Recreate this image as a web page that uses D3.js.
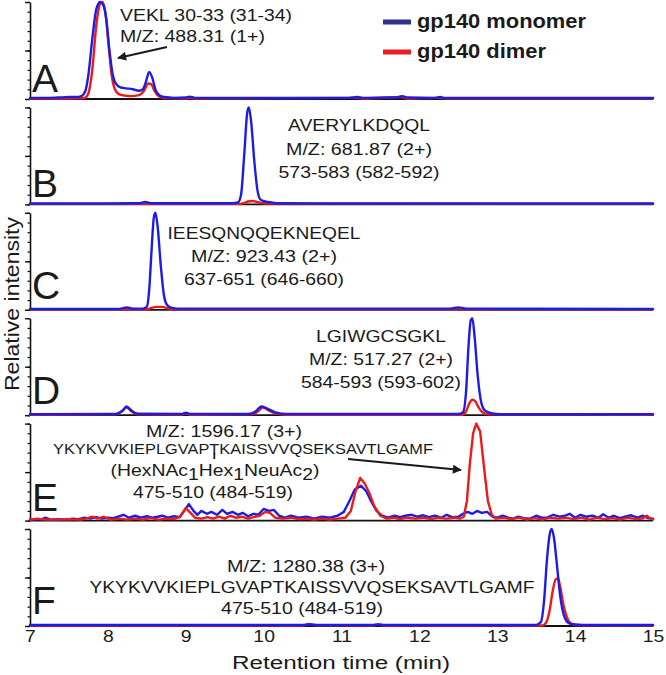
<!DOCTYPE html>
<html><head><meta charset="utf-8">
<script src="https://cdn.jsdelivr.net/npm/d3@7"></script>
<style>
html,body{margin:0;padding:0;background:#fff;}
svg{display:block;}
text{font-family:"Liberation Sans",Arial,Helvetica,sans-serif;fill:#1a1a1a;}
</style></head>
<body>
<svg id="chart" width="666" height="675"></svg>
<script>
// ---------------- DATA ----------------
const panels = ["A","B","C","D","E","F"];
const seriesNames = ["gp140 monomer","gp140 dimer"];
const timeTicks = [7,8,9,10,11,12,13,14,15];

// [retention time (min), relative intensity]
const aMonomer = [[7.0,0.012],[7.2,0.012],[7.35,0.015],[7.5,0.02],[7.6,0.02],[7.66,0.03],[7.71,0.08],[7.75,0.25],[7.8,0.62],[7.85,0.92],[7.9,1.0],[7.94,0.97],[7.98,0.82],[8.02,0.5],[8.06,0.26],[8.1,0.16],[8.16,0.12],[8.24,0.11],[8.32,0.1],[8.4,0.085],[8.45,0.1],[8.49,0.18],[8.53,0.28],[8.57,0.22],[8.61,0.1],[8.66,0.04],[8.72,0.02],[8.85,0.012],[9.0,0.015],[9.05,0.025],[9.12,0.012],[9.4,0.01],[10.0,0.01],[10.5,0.01],[11.1,0.012],[11.2,0.02],[11.28,0.012],[11.7,0.015],[11.78,0.03],[11.85,0.015],[12.2,0.012],[12.27,0.02],[12.33,0.01],[13.0,0.01],[14.0,0.01],[15.0,0.01]];
const aDimer = [[7.0,0.005],[7.5,0.005],[7.7,0.01],[7.75,0.06],[7.8,0.3],[7.85,0.75],[7.9,0.98],[7.93,1.0],[7.97,0.88],[8.01,0.55],[8.05,0.24],[8.09,0.1],[8.14,0.05],[8.22,0.035],[8.3,0.03],[8.4,0.04],[8.46,0.08],[8.52,0.16],[8.56,0.15],[8.6,0.08],[8.65,0.03],[8.72,0.01],[9.0,0.005],[9.05,0.015],[9.12,0.005],[11.2,0.012],[11.28,0.005],[11.78,0.02],[11.85,0.005],[12.27,0.012],[12.33,0.005],[15.0,0.005]];

const bMonomer = [[7.0,0.01],[8.0,0.01],[8.4,0.012],[8.48,0.025],[8.56,0.012],[9.6,0.012],[9.67,0.02],[9.71,0.1],[9.75,0.5],[9.79,0.95],[9.81,1.0],[9.84,0.85],[9.88,0.45],[9.92,0.15],[9.96,0.05],[10.02,0.03],[10.1,0.02],[10.2,0.012],[11.0,0.01],[15.0,0.01]];
const bDimer = [[7.0,0.005],[9.7,0.005],[9.75,0.015],[9.8,0.03],[9.86,0.035],[9.92,0.025],[9.98,0.015],[10.06,0.008],[15.0,0.005]];

const cMonomer = [[7.0,0.01],[8.15,0.01],[8.24,0.025],[8.32,0.012],[8.45,0.012],[8.5,0.03],[8.53,0.2],[8.56,0.6],[8.59,0.95],[8.61,1.0],[8.64,0.85],[8.68,0.45],[8.72,0.15],[8.76,0.05],[8.82,0.02],[8.9,0.012],[12.4,0.012],[12.5,0.025],[12.6,0.012],[15.0,0.01]];
const cDimer = [[7.0,0.005],[8.5,0.005],[8.56,0.02],[8.62,0.03],[8.7,0.03],[8.78,0.012],[8.85,0.005],[12.45,0.005],[12.5,0.015],[12.56,0.005],[15.0,0.005]];

const dMonomer = [[7.0,0.01],[8.1,0.012],[8.18,0.04],[8.24,0.09],[8.3,0.05],[8.38,0.015],[8.95,0.012],[9.0,0.025],[9.06,0.012],[9.8,0.012],[9.9,0.04],[9.97,0.09],[10.04,0.07],[10.15,0.03],[10.3,0.012],[12.5,0.012],[12.56,0.03],[12.6,0.25],[12.63,0.7],[12.66,0.98],[12.68,1.0],[12.71,0.8],[12.75,0.4],[12.79,0.15],[12.84,0.05],[12.92,0.02],[13.05,0.01],[15.0,0.01]];
const dDimer = [[7.0,0.005],[8.1,0.008],[8.18,0.04],[8.24,0.08],[8.3,0.04],[8.38,0.01],[8.95,0.006],[9.0,0.02],[9.06,0.005],[9.85,0.01],[9.93,0.04],[9.99,0.08],[10.06,0.05],[10.15,0.02],[10.3,0.005],[12.55,0.005],[12.6,0.04],[12.64,0.12],[12.68,0.16],[12.72,0.14],[12.76,0.08],[12.81,0.03],[12.88,0.008],[15.0,0.005]];

const eMonomer = [[7.0,0.01],[7.07,0.015],[7.14,0.01],[7.2,0.03],[7.26,0.01],[7.35,0.015],[7.45,0.01],[7.55,0.02],[7.62,0.015],[7.7,0.03],[7.77,0.02],[7.85,0.035],[7.92,0.02],[8.0,0.03],[8.07,0.025],[8.13,0.04],[8.2,0.06],[8.27,0.03],[8.35,0.05],[8.42,0.03],[8.5,0.045],[8.57,0.03],[8.64,0.04],[8.7,0.05],[8.77,0.03],[8.85,0.045],[8.92,0.035],[8.98,0.1],[9.04,0.17],[9.1,0.1],[9.15,0.06],[9.2,0.1],[9.27,0.07],[9.33,0.09],[9.4,0.06],[9.47,0.11],[9.53,0.07],[9.6,0.09],[9.67,0.06],[9.73,0.08],[9.8,0.045],[9.87,0.07],[9.93,0.06],[10.0,0.12],[10.07,0.1],[10.13,0.11],[10.2,0.05],[10.27,0.03],[10.35,0.05],[10.45,0.03],[10.55,0.04],[10.65,0.02],[10.75,0.04],[10.85,0.03],[10.95,0.05],[11.03,0.09],[11.1,0.2],[11.17,0.32],[11.25,0.36],[11.32,0.3],[11.38,0.2],[11.45,0.1],[11.52,0.05],[11.6,0.03],[11.68,0.05],[11.75,0.035],[11.82,0.05],[11.9,0.06],[11.97,0.04],[12.05,0.055],[12.12,0.035],[12.2,0.05],[12.28,0.03],[12.35,0.06],[12.42,0.035],[12.5,0.04],[12.56,0.07],[12.62,0.09],[12.68,0.07],[12.74,0.1],[12.8,0.08],[12.87,0.09],[12.94,0.04],[13.0,0.03],[13.07,0.05],[13.14,0.03],[13.2,0.02],[13.27,0.04],[13.34,0.025],[13.42,0.02],[13.5,0.05],[13.57,0.03],[13.64,0.03],[13.72,0.06],[13.8,0.04],[13.87,0.05],[13.93,0.07],[14.0,0.03],[14.07,0.06],[14.14,0.04],[14.22,0.05],[14.3,0.03],[14.36,0.065],[14.43,0.03],[14.5,0.05],[14.57,0.025],[14.64,0.04],[14.72,0.055],[14.8,0.03],[14.87,0.05],[14.94,0.025],[15.0,0.02]];
const eDimer = [[7.0,0.01],[7.1,0.02],[7.2,0.01],[7.35,0.01],[7.5,0.015],[7.65,0.01],[7.72,0.02],[7.8,0.04],[7.87,0.02],[7.95,0.04],[8.03,0.01],[8.15,0.02],[8.25,0.01],[8.35,0.02],[8.45,0.01],[8.55,0.025],[8.65,0.01],[8.75,0.02],[8.85,0.015],[8.93,0.04],[9.0,0.13],[9.06,0.08],[9.12,0.03],[9.2,0.02],[9.28,0.035],[9.35,0.02],[9.43,0.04],[9.5,0.02],[9.57,0.05],[9.64,0.03],[9.72,0.04],[9.8,0.02],[9.87,0.035],[9.95,0.05],[10.02,0.09],[10.08,0.08],[10.15,0.03],[10.25,0.02],[10.35,0.03],[10.45,0.015],[10.55,0.02],[10.65,0.01],[10.75,0.02],[10.85,0.01],[10.95,0.02],[11.05,0.03],[11.12,0.1],[11.18,0.3],[11.24,0.44],[11.3,0.38],[11.36,0.28],[11.42,0.15],[11.5,0.05],[11.58,0.02],[11.67,0.03],[11.75,0.015],[11.85,0.03],[11.95,0.02],[12.05,0.03],[12.15,0.015],[12.25,0.03],[12.35,0.02],[12.45,0.03],[12.52,0.02],[12.57,0.04],[12.61,0.2],[12.65,0.6],[12.69,0.9],[12.73,1.0],[12.78,0.92],[12.83,0.55],[12.88,0.2],[12.93,0.06],[12.98,0.02],[13.08,0.03],[13.18,0.015],[13.28,0.03],[13.38,0.01],[13.48,0.025],[13.58,0.01],[13.68,0.03],[13.78,0.02],[13.88,0.03],[13.98,0.015],[14.08,0.03],[14.18,0.01],[14.28,0.03],[14.38,0.015],[14.48,0.025],[14.58,0.01],[14.68,0.03],[14.78,0.015],[14.86,0.02],[14.92,0.05],[14.97,0.02],[15.0,0.01]];

const fMonomer = [[7.0,0.01],[10.5,0.01],[10.6,0.015],[10.7,0.01],[11.4,0.01],[11.47,0.015],[11.55,0.01],[13.5,0.01],[13.56,0.04],[13.6,0.25],[13.64,0.7],[13.68,0.97],[13.7,1.0],[13.73,0.9],[13.77,0.6],[13.81,0.3],[13.86,0.1],[13.92,0.03],[14.0,0.015],[14.1,0.01],[15.0,0.01]];
const fDimer = [[7.0,0.005],[10.5,0.005],[10.58,0.02],[10.66,0.008],[11.4,0.005],[11.47,0.015],[11.55,0.005],[13.58,0.005],[13.63,0.04],[13.67,0.15],[13.71,0.35],[13.75,0.48],[13.78,0.49],[13.81,0.4],[13.85,0.22],[13.9,0.08],[13.96,0.02],[14.05,0.008],[15.0,0.005]];

const monomerTraces = [aMonomer,bMonomer,cMonomer,dMonomer,eMonomer,fMonomer];
const dimerTraces = [aDimer,bDimer,cDimer,dDimer,eDimer,fDimer];

const annotationA = ["VEKL 30-33 (31-34)","M/Z: 488.31 (1+)"];
const annotationB = ["AVERYLKDQQL","M/Z: 681.87 (2+)","573-583 (582-592)"];
const annotationC = ["IEESQNQQEKNEQEL","M/Z: 923.43 (2+)","637-651 (646-660)"];
const annotationD = ["LGIWGCSGKL","M/Z: 517.27 (2+)","584-593 (593-602)"];
const annotationE = ["M/Z: 1596.17 (3+)","YKYKVVKIEPLGVAPTKAISSVVQSEKSAVTLGAMF","475-510 (484-519)"];
const glycanE = [["(HexNAc",false],["1",true],["Hex",false],["1",true],["NeuAc",false],["2",true],[")",false]];
const annotationF = ["M/Z: 1280.38 (3+)","YKYKVVKIEPLGVAPTKAISSVVQSEKSAVTLGAMF","475-510 (484-519)"];

const xLabel = "Retention time (min)";
const yLabel = "Relative intensity";

// ---------------- LAYOUT ----------------
const BLUE = "#1c1ce8", RED = "#ee1a1a";
const LEG_BLUE = "#2e3192", LEG_RED = "#ed1c24";
const SX = 1.12, FS = 17.3;
const svg = d3.select("#chart");

const x = d3.scaleLinear().domain([7,15]).range([30,653]);
const baseScale = d3.scalePoint().domain(panels).range([99,626]);
const PH = 97;

const defs = svg.append("defs");
defs.append("marker").attr("id","ah").attr("viewBox","0 0 10 10").attr("refX",9).attr("refY",5)
  .attr("markerWidth",5).attr("markerHeight",4.5).attr("orient","auto").attr("markerUnits","strokeWidth")
  .append("path").attr("d","M0,0 L10,5 L0,10 Z").attr("fill","#1a1a1a");

function label(parent, px, py, str, opts={}) {
  const sx = opts.sx || SX;
  const g = parent.append("g").attr("transform",`translate(${px},${py}) scale(${sx},1)`);
  const t = g.append("text").attr("x",0).attr("y",0)
    .attr("text-anchor",opts.anchor||"middle")
    .style("font-size",(opts.fs||FS)+"px")
    .style("font-weight",opts.bold?"bold":"normal")
    .text(str);
  if (opts.width) t.attr("textLength", opts.width/sx).attr("lengthAdjust","spacingAndGlyphs");
  return {g,t};
}

panels.forEach((p,i) => {
  const base = baseScale(p);
  const y = d3.scaleLinear().domain([0,1]).range([base, base-PH]);
  const g = svg.append("g");

  g.append("g").attr("transform","translate(30,0)")
    .call(d3.axisLeft(y).tickValues(d3.range(0,1.0001,0.1)).tickSize(2.5).tickSizeOuter(0).tickFormat(""))
    .call(a=>{a.select(".domain").attr("stroke","#111").attr("stroke-width",1.6); a.selectAll(".tick line").attr("stroke","#111").attr("stroke-width",1.2);});
  g.append("g").attr("transform","translate(30,0)")
    .call(d3.axisLeft(y).tickValues([0,0.5,1]).tickSize(5).tickSizeOuter(0).tickFormat(""))
    .call(a=>{a.select(".domain").remove(); a.selectAll(".tick line").attr("stroke","#111").attr("stroke-width",1.4);});

  g.append("line").attr("x1",x(7)).attr("x2",x(15)).attr("y1",y(0)).attr("y2",y(0))
    .attr("stroke","#111").attr("stroke-width",1.8);

  const curve = p === "E" ? d3.curveLinear : d3.curveMonotoneX;
  const line = d3.line().x(d=>x(d[0])).y(d=>y(d[1])).curve(curve);
  const order = p === "E" ? [[monomerTraces[i],BLUE],[dimerTraces[i],RED]] : [[dimerTraces[i],RED],[monomerTraces[i],BLUE]];
  order.forEach(([data,col]) => {
    g.append("path").datum(data).attr("d",line).attr("fill","none")
      .attr("stroke",col).attr("stroke-width",2.4).attr("stroke-linejoin","round").attr("stroke-linecap","round");
  });
});

const letterBase = {A:92,B:197,C:299,D:404,E:511,F:614};
panels.forEach(p => {
  svg.append("text").attr("x",32).attr("y",letterBase[p]).style("font-size","39px").text(p);
});

label(svg,120,21,annotationA[0],{anchor:"start",width:172});
label(svg,120,41.5,annotationA[1],{anchor:"start",width:145});
[[142],[146],[161]].forEach((w,k)=>label(svg,359,131+k*23.5,annotationB[k],{width:w[0]}));
[[193],[146],[160]].forEach((w,k)=>label(svg,264,239+k*23,annotationC[k],{width:w[0]}));
[[130],[144],[160]].forEach((w,k)=>label(svg,381,342+k*23,annotationD[k],{width:w[0]}));

label(svg,224,437,annotationE[0],{width:156});
const eSeq = label(svg,243,454,annotationE[1],{fs:14.6,width:380});
{
  const node = eSeq.t.node();
  const s = node.getStartPositionOfChar(15).x, e = node.getEndPositionOfChar(15).x;
  eSeq.g.append("line").attr("x1",(s+e)/2).attr("x2",(s+e)/2).attr("y1",-1).attr("y2",5)
    .attr("stroke","#1a1a1a").attr("stroke-width",1.6);
}
{
  const g = svg.append("g").attr("transform",`translate(215,476) scale(${SX},1)`);
  const t = g.append("text").attr("text-anchor","middle").style("font-size",FS+"px");
  let down = false;
  glycanE.forEach(([s,sub])=>{
    const ts = t.append("tspan").text(s);
    if (sub && !down) { ts.attr("dy",4); down = true; }
    else if (!sub && down) { ts.attr("dy",-4); down = false; }
  });
}
label(svg,213,498,annotationE[2],{width:160});

label(svg,306,572,annotationF[0],{width:158});
label(svg,312,593,annotationF[1],{width:445});
label(svg,302,614,annotationF[2],{width:162});

svg.append("line").attr("x1",167).attr("y1",47).attr("x2",118).attr("y2",58)
  .attr("stroke","#1a1a1a").attr("stroke-width",2).attr("marker-end","url(#ah)");
svg.append("line").attr("x1",348).attr("y1",459).attr("x2",461).attr("y2",470)
  .attr("stroke","#1a1a1a").attr("stroke-width",2).attr("marker-end","url(#ah)");

[[LEG_BLUE,22,28,169],[LEG_RED,52,58,129]].forEach(([c,ly,ty,w],k)=>{
  svg.append("line").attr("x1",383).attr("x2",411).attr("y1",ly).attr("y2",ly).attr("stroke",c).attr("stroke-width",5);
  label(svg,417,ty,seriesNames[k],{anchor:"start",bold:true,fs:19.5,width:w});
});

const xAxisG = svg.append("g").attr("transform","translate(0,626)")
  .call(d3.axisBottom(x).tickValues(timeTicks).tickSize(0).tickFormat(d3.format("d")));
xAxisG.select(".domain").remove();
xAxisG.selectAll(".tick text").each(function(d){
  d3.select(this).attr("y",0).attr("dy",0)
    .attr("transform",`translate(0,16) scale(${SX},1)`)
    .style("font-size",FS+"px").style("font-family",'"Liberation Sans",Arial,sans-serif').attr("fill","#1a1a1a");
});
label(svg,341,669,xLabel,{fs:19,width:218});

svg.append("g").attr("transform","translate(19,304) rotate(-90)")
  .append("text").attr("text-anchor","middle").style("font-size","20px")
  .attr("textLength",174).attr("lengthAdjust","spacingAndGlyphs").text(yLabel);
</script>
</body></html>
